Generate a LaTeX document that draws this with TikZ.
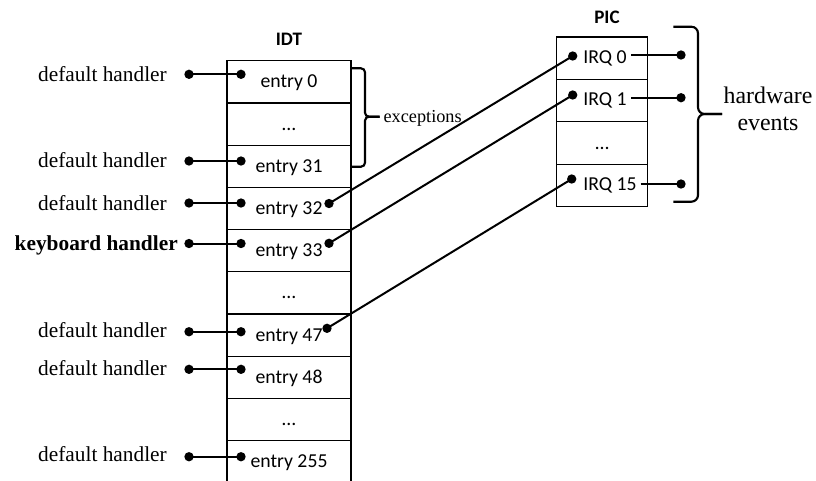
\documentclass[tikz,border=0pt]{standalone}
\usepackage{fontspec}
\setmainfont{Liberation Serif}
\newfontfamily\carl{Carlito}
\begin{document}
\begin{tikzpicture}[x=0.75pt,y=-0.75pt,
  idtrow/.style={draw, line width=0.9pt, rectangle, minimum width=93pt, minimum height=31.65pt,
    inner sep=0pt, text height=9pt, text depth=0pt, font=\carl\fontsize{14.8pt}{17pt}\selectfont},
  picrow/.style={draw, line width=0.9pt, rectangle, minimum width=68.25pt, minimum height=31.8pt,
    inner sep=0pt, text height=9pt, text depth=0pt, font=\carl\fontsize{14.8pt}{17pt}\selectfont},
  irq/.style={anchor=base west, inner sep=0pt, font=\carl\fontsize{14.8pt}{17pt}\selectfont},
  dot/.style={circle, fill, inner sep=0pt, minimum size=7pt},
  wire/.style={line width=1.5pt},
  handler/.style={anchor=base east, inner sep=0pt, font=\fontsize{16pt}{19pt}\selectfont},
  brace/.style={line width=1.6pt},
  title/.style={inner sep=0pt, font=\carl\bfseries\fontsize{14.3pt}{17pt}\selectfont}
]
\useasboundingbox (0,0) rectangle (816,480);
\clip (0,0) rectangle (816,480);

% IDT
\node[title] (idt) at (289,39.2) {IDT};
\node[idtrow] (r0) at (289,81.8) {entry 0};
\node[idtrow] (r1) at (289,124) {…};
\node[idtrow] (r2) at (289,166.2) {entry 31};
\node[idtrow] (r3) at (289,208.4) {entry 32};
\node[idtrow] (r4) at (289,250.6) {entry 33};
\node[idtrow] (r5) at (289,292.8) {…};
\node[idtrow] (r6) at (289,335) {entry 47};
\node[idtrow] (r7) at (289,377.2) {entry 48};
\node[idtrow] (r8) at (289,419.4) {…};
\node[idtrow] (r9) at (289,461.6) {entry 255};

% PIC
\node[title] (pic) at (607,17) {PIC};
\node[picrow] (p0) at (602.2,58.2) {};
\node[picrow] (p1) at (602.2,100.6) {};
\node[picrow] (p2) at (602.2,143) {…};
\node[picrow] (p3) at (602.2,185.4) {};
\node[irq] (t0) at (583,63.3) {IRQ 0};
\node[irq] (t1) at (583,105.7) {IRQ 1};
\node[irq] (t15) at (583,190.3) {IRQ 15};

% handler labels
\node[handler] (l0) at (167,81) {default handler};
\node[handler] (l2) at (167,167.7) {default handler};
\node[handler] (l3) at (167,210) {default handler};
\node[handler] (l4) at (178,250) {\bfseries keyboard handler};
\node[handler] (l6) at (167,337.3) {default handler};
\node[handler] (l7) at (167,375) {default handler};
\node[handler] (l9) at (167,461.7) {default handler};

% dots
\node[dot] (hL0) at (189,74.3) {};   \node[dot] (eL0) at (241,74.3) {};
\node[dot] (hL2) at (189,161) {};    \node[dot] (eL2) at (241,161) {};
\node[dot] (hL3) at (189,203) {};    \node[dot] (eL3) at (241,203) {};
\node[dot] (hL4) at (189,243.5) {};  \node[dot] (eL4) at (241,243.5) {};
\node[dot] (hL6) at (189,331.7) {};  \node[dot] (eL6) at (241,331.7) {};
\node[dot] (hL7) at (189,369.3) {};  \node[dot] (eL7) at (241,369.3) {};
\node[dot] (hL9) at (189,456.7) {};  \node[dot] (eL9) at (241,456.7) {};
\node[dot] (eR3) at (329,203.5) {};
\node[dot] (eR4) at (329,243.3) {};
\node[dot] (eR6) at (327,328.3) {};
\node[dot] (pL0) at (572.7,56) {};
\node[dot] (pL1) at (572.7,95) {};
\node[dot] (pL15) at (571.7,179) {};
\node[dot] (pR0) at (681,55) {};
\node[dot] (pR1) at (681,97.7) {};
\node[dot] (pR15) at (681,184) {};
\coordinate (pS0) at (631,55);
\coordinate (pS1) at (631,97.7);
\coordinate (pS15) at (640.7,184);

% wires
\foreach \i in {0,2,3,4,6,7,9} {\draw[wire] (hL\i.center) -- (eL\i.center);}
\draw[wire] (eR3.center) -- (pL0.center);
\draw[wire] (eR4.center) -- (pL1.center);
\draw[wire] (eR6.center) -- (pL15.center);
\draw[wire] (pS0) -- (pR0.center);
\draw[wire] (pS1) -- (pR1.center);
\draw[wire] (pS15) -- (pR15.center);

% braces
\draw[brace, rounded corners=3pt] (351.7,68.3) -- (365,68.3) -- (365,116.7) -- (379.5,116.7);
\draw[brace, rounded corners=3pt] (351.7,166.7) -- (365,166.7) -- (365,116.7) -- (379.5,116.7);
\node[anchor=base west, inner sep=0pt, font=\fontsize{13.7pt}{16pt}\selectfont] (exc) at (383.3,122) {exceptions};

\draw[brace, rounded corners=5pt] (673.3,26.7) -- (698,26.7) -- (698,114) -- (722,114);
\draw[brace, rounded corners=5pt] (673.3,201.7) -- (698,201.7) -- (698,114) -- (722,114);
\node[align=center, inner sep=0pt, font=\fontsize{17.9pt}{20pt}\selectfont] (hw) at (768,108.5) {hardware\\events};
\end{tikzpicture}
\end{document}
